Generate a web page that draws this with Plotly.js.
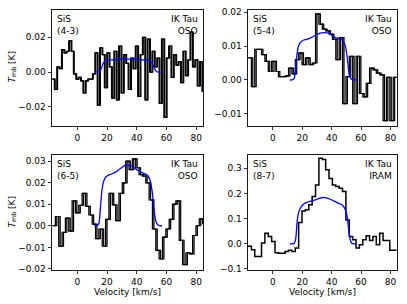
<!DOCTYPE html>
<html><head><meta charset="utf-8">
<script src="https://cdn.plot.ly/plotly-3.0.1.min.js"></script>
<style>html,body{margin:0;padding:0;background:#fff}#chart{width:407px;height:304px}</style>
</head><body><div id="chart"></div>
<script>
// ---- SiS (4-3), OSO ----
const vel43 = [-17.0,-15.4,-13.8,-12.2,-10.6,-9.0,-7.4,-5.8,-4.2,-2.6,-1.0,0.6,2.2,3.8,5.4,7.0,8.6,10.2,11.8,13.4,15.0,16.6,18.2,19.8,21.4,23.0,24.6,26.2,27.8,29.4,31.0,32.6,34.2,35.8,37.4,39.0,40.6,42.2,43.8,45.4,47.0,48.6,50.2,51.8,53.4,55.0,56.6,58.2,59.8,61.4,63.0,64.6,66.2,67.8,69.4,71.0,72.6,74.2,75.8,77.4,79.0,80.6,82.2,83.8];
const tmb43 = [-0.004,-0.010,0.003,0.002,0.013,0.011,0.012,0.018,0.012,-0.001,-0.004,-0.003,-0.005,-0.012,-0.005,-0.004,-0.004,-0.001,0.011,-0.019,0.014,0.010,-0.009,0.011,0.003,-0.015,0.012,-0.016,0.015,-0.012,0.010,0.005,-0.010,0.008,0.002,0.015,-0.014,0.010,0.020,-0.016,0.019,0.000,0.012,0.003,0.008,-0.018,0.019,-0.026,0.008,0.015,-0.003,0.010,0.004,0.006,-0.006,0.012,-0.002,0.007,0.023,0.003,0.007,-0.008,0.006,-0.011];
// ---- SiS (5-4), OSO ----
const vel54 = [-17.0,-14.7,-12.4,-10.1,-7.8,-5.5,-3.2,-0.9,1.4,3.7,6.0,8.3,10.6,12.9,15.2,17.5,19.8,22.1,24.4,26.7,29.0,31.3,33.6,35.9,38.2,40.5,42.8,45.1,47.4,49.7,52.0,54.3,56.6,58.9,61.2,63.5,65.8,68.1,70.4,72.7,75.0,77.3,79.6,81.9];
const tmb54 = [0.0065,-0.002,0.009,0.009,0.0075,0.0055,0.0025,0.0055,0.0025,0.001,0.001,0.0012,0.0035,0.0018,0.006,0.008,0.0045,0.0065,0.0045,0.005,0.0195,0.0165,0.015,0.0145,0.0135,0.012,0.006,0.0125,-0.007,0.001,0.007,-0.007,0.007,-0.004,-0.005,-0.001,0.0035,0.003,0.002,0.0015,-0.012,0.0008,-0.012,0.0008];
// ---- SiS (6-5), OSO ----
const vel65 = [-17.0,-14.75,-12.5,-10.25,-8.0,-5.75,-3.5,-1.25,1.0,3.25,5.5,7.75,10.0,12.25,14.5,16.75,19.0,21.25,23.5,25.75,28.0,30.25,32.5,34.75,37.0,39.25,41.5,43.75,46.0,48.25,50.5,52.75,55.0,57.25,59.5,61.75,64.0,66.25,68.5,70.75,73.0,75.25,77.5,79.75,82.0,84.25];
const tmb65 = [0.0,0.0043,-0.0095,-0.003,0.0035,-0.0025,0.0115,0.006,0.0095,0.015,0.009,0.005,0.0008,-0.006,-0.0015,-0.0095,0.003,0.015,0.0097,0.0024,0.015,0.0199,0.030,0.026,0.031,0.0269,0.0237,0.023,0.0199,0.012,-0.0015,-0.0114,-0.0153,-0.0053,-0.0015,0.003,0.010,0.0115,-0.0068,-0.018,-0.0125,-0.013,-0.0045,0.0,0.0032,0.001];
// ---- SiS (8-7), IRAM ----
const vel87 = [-17.0,-14.7,-12.4,-10.1,-7.8,-5.5,-3.2,-0.9,1.4,3.7,6.0,8.3,10.6,12.9,15.2,17.5,19.8,22.1,24.4,26.7,29.0,31.3,33.6,35.9,38.2,40.5,42.8,45.1,47.4,49.7,52.0,54.3,56.6,58.9,61.2,63.5,65.8,68.1,70.4,72.7,75.0,77.3,79.6,81.9];
const tmb87 = [-0.01,-0.024,-0.05,-0.05,0.003,0.042,0.029,0.009,-0.035,-0.037,-0.037,-0.03,-0.026,-0.03,-0.017,0.085,0.13,0.135,0.155,0.188,0.234,0.34,0.335,0.294,0.26,0.234,0.228,0.221,0.208,0.095,0.029,0.016,-0.017,-0.004,0.016,0.032,0.013,0.029,-0.004,0.042,0.013,0.013,-0.026,-0.026];
// ---- model profiles (blue) ----
const modelVel = [11.5,13,14.5,15.5,16.5,17.5,19,21,23,26,29,32,35,38,41,44,47,49,50.5,51.5,52.5,53.5,55,57];
const model43 = [0,0,0,0.0008,0.003,0.0052,0.0065,0.007,0.007,0.0072,0.0074,0.0075,0.0075,0.0074,0.0072,0.007,0.0068,0.0066,0.005,0.0028,0.001,0.0002,0,0];
const model54 = [0,0,0.0005,0.004,0.008,0.0102,0.0112,0.0118,0.012,0.0125,0.0132,0.0138,0.014,0.0138,0.0128,0.0123,0.0118,0.0105,0.007,0.003,0.001,0.0002,0,0];
const model65 = [0,0,0.001,0.008,0.016,0.02,0.0225,0.0235,0.024,0.025,0.0265,0.028,0.028,0.027,0.0255,0.0245,0.0235,0.021,0.015,0.008,0.003,0.001,0,0];
const model87 = [0,0,0.002,0.02,0.09,0.125,0.145,0.158,0.165,0.17,0.175,0.182,0.184,0.18,0.172,0.163,0.155,0.14,0.11,0.06,0.02,0.003,0,0];

const lineLabels = ['SiS<br>(4-3)','SiS<br>(5-4)','SiS<br>(6-5)','SiS<br>(8-7)'];
const sourceLabels = ['IK Tau<br>OSO','IK Tau<br>OSO','IK Tau<br>OSO','IK Tau<br>IRAM'];
const yTickVals = [[-0.02,0,0.02],[-0.01,0,0.01,0.02],[-0.02,-0.01,0,0.01,0.02,0.03],[-0.1,0,0.1,0.2,0.3]];
const xTickVals = [0,20,40,60,80];

const panels = [
  {v:vel43, t:tmb43, m:model43, shift:0.55, yr:[-0.031,0.036], fmt:'.2f'},
  {v:vel54, t:tmb54, m:model54, shift:1.0, yr:[-0.0136,0.0208], fmt:'.2f'},
  {v:vel65, t:tmb65, m:model65, shift:1.0, yr:[-0.0205,0.0328], fmt:'.2f'},
  {v:vel87, t:tmb87, m:model87, shift:0, yr:[-0.104,0.353], fmt:'.1f'}
];
const W=407, H=304;
const boxes = [ // pixel boxes [left,right,top,bottom]
  [52,203,9.5,126],[248,397,9.5,126],[52,203,155,270],[248,397,155,270]
];
const FONT = 'DejaVu Sans, sans-serif';
const FS = 9;
const data = [];
const layout = {width:W, height:H, margin:{l:0,r:0,t:0,b:0}, paper_bgcolor:'#fff', plot_bgcolor:'#fff',
  showlegend:false, font:{family:FONT, size:FS, color:'#000'}, annotations:[], bargap:0, barmode:'overlay'};

panels.forEach((p,i)=>{
  const n = i+1, xa = n===1?'x':'x'+n, ya = n===1?'y':'y'+n;
  const dv = p.v[p.v.length-1]-p.v[p.v.length-2];
  const xs = p.v.concat([p.v[p.v.length-1]+dv]);
  const ys = p.t.concat([p.t[p.t.length-1]]);
  if (p.shift>0){
    // thin grey slabs between the doubled channel edges
    const bx=[], bb=[], bh=[];
    for (let k=1;k<p.t.length;k++){
      bx.push(p.v[k]); bb.push(Math.min(p.t[k-1],p.t[k])); bh.push(Math.abs(p.t[k]-p.t[k-1]));
    }
    data.push({type:'bar', x:bx, y:bh, base:bb, width:p.shift, offset:0, xaxis:xa, yaxis:ya,
      marker:{color:'#a9a9a9', line:{width:0}}, hoverinfo:'skip'});
    data.push({x:xs.map(v=>v+p.shift), y:ys, xaxis:xa, yaxis:ya, type:'scatter', mode:'lines',
      line:{shape:'hv', color:'#000', width:1.2}, hoverinfo:'skip'});
  }
  data.push({x:xs, y:ys, xaxis:xa, yaxis:ya, type:'scatter', mode:'lines',
    line:{shape:'hv', color:'#000', width:p.shift>0?1.2:1.5}, hoverinfo:'skip'});
  data.push({x:modelVel, y:p.m, xaxis:xa, yaxis:ya, type:'scatter', mode:'lines',
    line:{shape:'spline', smoothing:0.6, color:'#0000ff', width:1.3}, hoverinfo:'skip'});
  const b = boxes[i];
  const axCommon = {showline:true, mirror:true, linecolor:'#000', linewidth:0.9, ticks:'outside',
    ticklen:3.5, tickwidth:0.8, tickcolor:'#000', showgrid:false, zeroline:false,
    tickfont:{family:FONT, size:FS, color:'#000'}};
  layout['xaxis'+(n===1?'':n)] = Object.assign({}, axCommon, {domain:[b[0]/W, b[1]/W], anchor:ya,
    range:[-17,84.5], tickmode:'array', tickvals:xTickVals});
  layout['yaxis'+(n===1?'':n)] = Object.assign({}, axCommon, {domain:[1-b[3]/H, 1-b[2]/H], anchor:xa,
    range:p.yr, tickmode:'array', tickvals:yTickVals[i], tickformat:p.fmt});
  layout.annotations.push({xref:xa+' domain', yref:ya+' domain', x:0, y:1, xanchor:'left', yanchor:'top',
    xshift:3, yshift:-2, text:lineLabels[i], showarrow:false, align:'left', font:{family:FONT,size:FS,color:'#000'}});
  layout.annotations.push({xref:xa+' domain', yref:ya+' domain', x:1, y:1, xanchor:'right', yanchor:'top',
    xshift:-3, yshift:-2, text:sourceLabels[i], showarrow:false, align:'right', font:{family:FONT,size:FS,color:'#000'}});
});
// axis titles
[[0,67.5],[2,212.5]].forEach(([i,cy])=>{
  layout.annotations.push({xref:'paper', yref:'paper', x:12/W, y:1-cy/H, xanchor:'center', yanchor:'middle',
    textangle:-90, text:'<i>T</i><sub>mb</sub> [K]', showarrow:false, font:{family:FONT,size:FS,color:'#000'}});
});
[[127.5],[322.5]].forEach(([cx])=>{
  layout.annotations.push({xref:'paper', yref:'paper', x:cx/W, y:1-292/H, xanchor:'center', yanchor:'middle',
    text:'Velocity [km/s]', showarrow:false, font:{family:FONT,size:FS,color:'#000'}});
});
Plotly.newPlot('chart', data, layout, {staticPlot:true, displayModeBar:false});
</script></body></html>
